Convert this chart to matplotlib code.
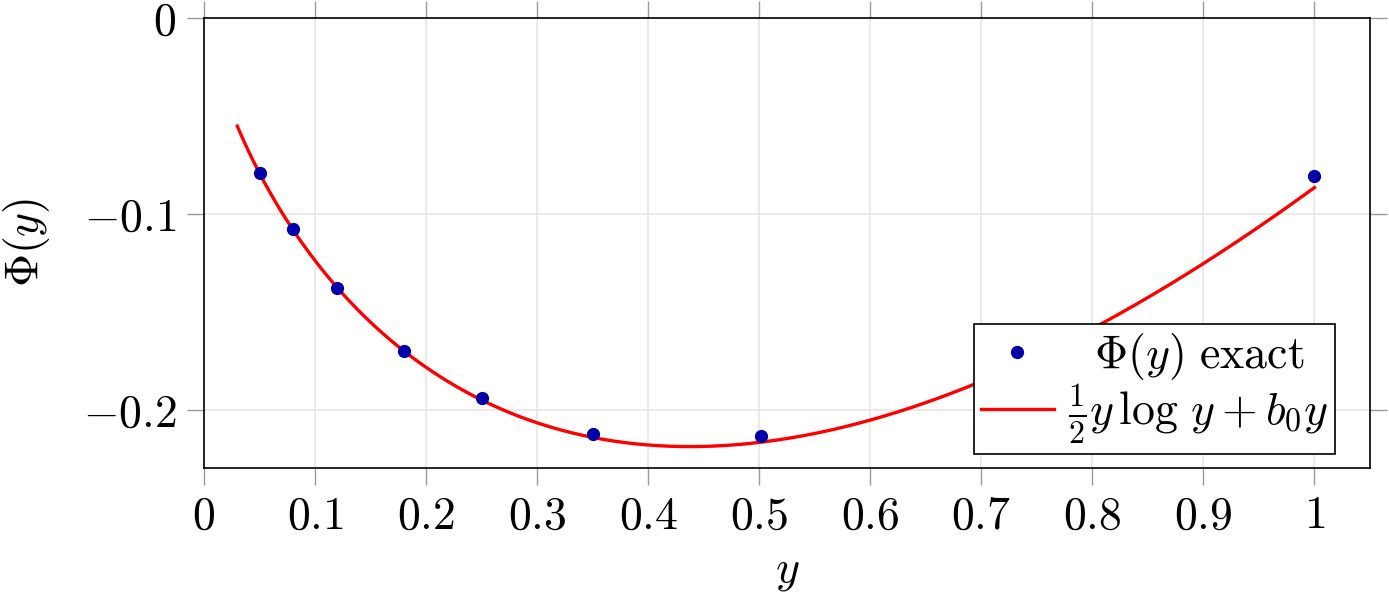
import numpy as np
import matplotlib
matplotlib.use('Agg')
import matplotlib.pyplot as plt

plt.rcParams['mathtext.fontset'] = 'cm'
plt.rcParams['font.family'] = 'serif'
plt.rcParams['font.serif'] = ['cmr10', 'DejaVu Serif']
plt.rcParams['axes.formatter.use_mathtext'] = True

# points
y_pts = [0.05, 0.08, 0.12, 0.18, 0.25, 0.35, 0.502, 1.0]
phi_pts = [-0.0791, -0.1077, -0.1378, -0.1699, -0.1939, -0.2122, -0.2133, -0.0806]

# fitted curve 1/2 y log y + b0 y, b0 read from the value at y = 1
b0 = -0.0865
y_min, y_max = 0.03, 1.0

xticks = [0, 0.1, 0.2, 0.3, 0.4, 0.5, 0.6, 0.7, 0.8, 0.9, 1]
xlabels = ['0', '0.1', '0.2', '0.3', '0.4', '0.5', '0.6', '0.7', '0.8', '0.9', '1']
yticks = [0, -0.1, -0.2]
ylabels = ['0', '-0.1', '-0.2']

fs = 33

fig = plt.figure(figsize=(13.89, 5.93), dpi=100)
ax = fig.add_axes([204 / 1389, 1 - 468 / 593, (1370 - 204) / 1389, (468 - 18) / 593])

yy = np.linspace(y_min, y_max, 400)
ax.plot(yy, 0.5 * yy * np.log(yy) + b0 * yy, color='red', lw=2.4,
        label=r'$\frac{1}{2}y\,\log\,y + b_0 y$', zorder=3)
ax.plot(y_pts, phi_pts, 'o', color='#0000aa', markersize=8.5, ls='none',
        label=r'$\ \ \Phi(y)\ \mathrm{exact}$', zorder=4)

ax.set_xlim(0, 1.05)
ax.set_ylim(-0.2296, 0)
ax.set_xticks(xticks)
ax.set_xticklabels(['$' + s + '$' for s in xlabels])
ax.set_yticks(yticks)
ax.set_yticklabels(['$' + s + '$' for s in ylabels])
ax.tick_params(direction='out', length=12, width=1, color='#999999',
               labelsize=fs, top=True, right=True, pad=8)
ax.grid(True, color='#e6e6e6', lw=1.2)
ax.set_axisbelow(True)
for sp in ax.spines.values():
    sp.set_linewidth(1.2)
    sp.set_color('black')

ax.set_xlabel(r'$y$', fontsize=fs, labelpad=10)
ax.set_ylabel(r'$\Phi(y)$', fontsize=fs, labelpad=22)

h, l = ax.get_legend_handles_labels()
leg = ax.legend([h[1], h[0]], [l[1], l[0]], loc='lower right', fontsize=fs,
                fancybox=False, edgecolor='black', framealpha=1,
                bbox_to_anchor=(0.970, 0.031), borderaxespad=0,
                borderpad=0.15, handlelength=1.6, labelspacing=0.02,
                handletextpad=0.3)
leg.get_frame().set_linewidth(1.2)

fig.savefig('out.png', dpi=100)
